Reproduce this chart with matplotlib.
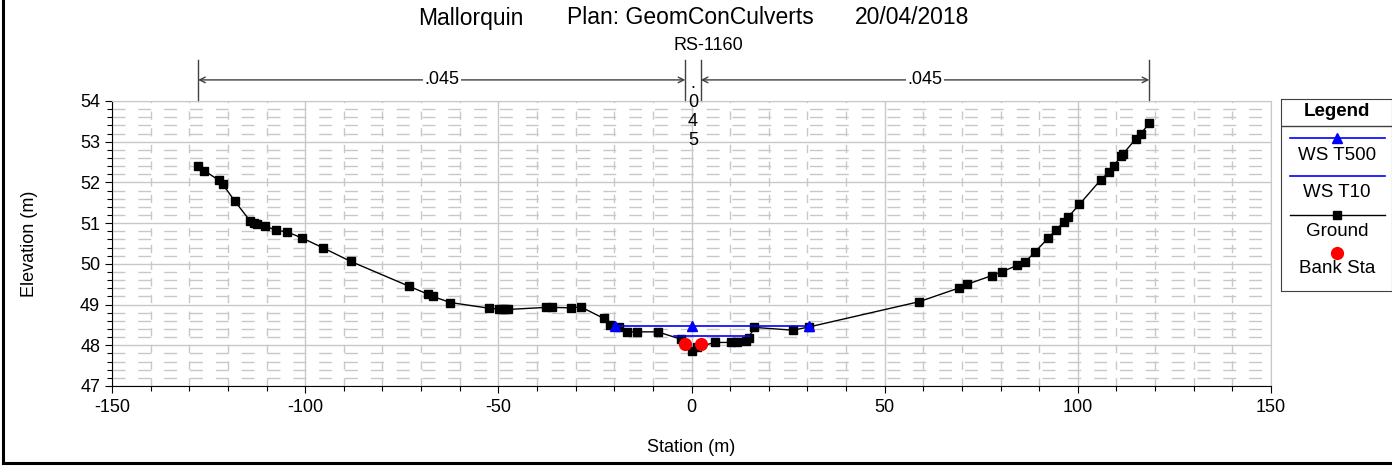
import matplotlib
matplotlib.use("Agg")
import matplotlib.pyplot as plt
from matplotlib.lines import Line2D
from matplotlib.ticker import MultipleLocator

plt.rcParams['font.family'] = ['Liberation Sans', 'DejaVu Sans']
plt.rcParams['axes.unicode_minus'] = False

# ground profile (station, elevation)
ground_sta = [-127.7, -126.1, -122.3, -121.3, -118.2, -114.3, -113.2, -112.4, -110.5,
              -107.6, -104.6, -100.9, -95.3, -88.2, -73.1, -68.1, -67.0, -62.4,
              -52.4, -49.9, -49.0, -48.2, -47.5, -37.7, -36.0, -31.2, -28.6,
              -22.7, -21.0, -18.8, -16.7, -14.2, -8.7, -2.8, 0.0, 1.5, 6.0,
              10.1, 11.8, 14.2, 14.8, 16.3, 26.3, 30.4, 58.9, 69.3, 71.4,
              77.7, 80.5, 84.2, 86.4, 88.9, 92.4, 94.3, 96.5, 97.5, 100.4,
              105.9, 108.0, 109.3, 111.1, 111.8, 115.0, 116.3, 118.5]
ground_elev = [52.40, 52.29, 52.05, 51.95, 51.54, 51.06, 51.00, 50.98, 50.93,
               50.83, 50.78, 50.64, 50.39, 50.06, 49.45, 49.25, 49.20, 49.05,
               48.91, 48.89, 48.88, 48.88, 48.88, 48.93, 48.93, 48.92, 48.94,
               48.66, 48.50, 48.46, 48.33, 48.33, 48.33, 48.15, 47.86, 47.95, 48.07,
               48.07, 48.07, 48.10, 48.19, 48.44, 48.37, 48.45, 49.07, 49.41, 49.50,
               49.71, 49.81, 49.96, 50.05, 50.29, 50.64, 50.83, 51.04, 51.15, 51.46,
               52.06, 52.25, 52.40, 52.64, 52.71, 53.07, 53.19, 53.46]

ws500_sta = [-19.7, 0.0, 30.4]
ws500_elev = [48.47, 48.47, 48.47]

ws10_sta = [-4.5, 14.8]
ws10_elev = [48.23, 48.23]

bank_sta = [-1.6, 2.4]
bank_elev = [48.04, 48.04]

# manning's n regions
n_bounds = [-127.7, -1.6, 2.4, 118.5]
n_values = ['.045', '.045', '.045']

W, H = 1392, 470
fig = plt.figure(figsize=(W / 100, H / 100), dpi=100)
ax = fig.add_axes([112 / W, 1 - 386 / H, (1271 - 112) / W, (386 - 101) / H])

grid_c = '#c8c8c8'
ax.set_xlim(-150, 150)
ax.set_ylim(47, 54)
ax.xaxis.set_major_locator(MultipleLocator(50))
ax.xaxis.set_minor_locator(MultipleLocator(10))
ax.yaxis.set_major_locator(MultipleLocator(1))
ax.yaxis.set_minor_locator(MultipleLocator(0.2))
ax.grid(which='major', color=grid_c, lw=1.0)
ax.grid(which='minor', axis='y', color=grid_c, lw=1.0, linestyle=(0, (9.3, 9.3)))
ax.grid(which='minor', axis='x', color=grid_c, lw=1.0, linestyle=(0, (6, 6)))
ax.set_axisbelow(True)
for s in ['top', 'right']:
    ax.spines[s].set_color(grid_c)
for s in ['left', 'bottom']:
    ax.spines[s].set_color('black')
ax.tick_params(which='major', length=5, width=0.8, labelsize=13)
ax.tick_params(which='minor', length=3.5, width=0.8)
ax.tick_params(axis='x', pad=4)

ax.plot(ground_sta, ground_elev, color='black', lw=1, marker='s', ms=5.8, zorder=3)
ax.plot(ws500_sta, ws500_elev, color='#0000ff', lw=1.2, marker='^', ms=6.5, zorder=4)
ax.plot(ws10_sta, ws10_elev, color='#0000ff', lw=1.2, zorder=4)
ax.plot(bank_sta, bank_elev, 'o', color='#ff0000', ms=8.5, zorder=5)

ax.set_xlabel('Station (m)', fontsize=13, labelpad=17)
ax.set_ylabel('Elevation (m)', fontsize=13, labelpad=30)

# manning's n markers above the plot
tr = ax.get_xaxis_transform()
ann_c = '#404040'
for b in n_bounds:
    ax.plot([b, b], [1.0, 1.144], transform=tr, color=ann_c, lw=1, clip_on=False)
arrow_y = 1.074
for (x0, x1), n in zip([(n_bounds[0], n_bounds[1]), (n_bounds[2], n_bounds[3])],
                       [n_values[0], n_values[2]]):
    ax.annotate('', xy=(x0, arrow_y), xytext=(x1, arrow_y), xycoords=tr, textcoords=tr,
                arrowprops=dict(arrowstyle='<->', color=ann_c, lw=1, shrinkA=0, shrinkB=0),
                annotation_clip=False)
    ax.text((x0 + x1) / 2, arrow_y, n, transform=tr, ha='center', va='center', fontsize=13,
            bbox=dict(facecolor='white', edgecolor='none', pad=1))
mid = (n_bounds[1] + n_bounds[2]) / 2
ax.text(mid, (386 - 75) / 285, '\n'.join(n_values[1]), transform=tr, ha='center', va='top',
        fontsize=13, linespacing=1.16)

fig.text(708 / W, 1 - 46 / H, 'RS-1160', ha='center', va='center', fontsize=13)
fig.text(418 / W, 1 - 18 / H, 'Mallorquin', ha='left', va='center', fontsize=16.5)
fig.text(567 / W, 1 - 18 / H, 'Plan: GeomConCulverts', ha='left', va='center', fontsize=16.5)
fig.text(855 / W, 1 - 18 / H, '20/04/2018', ha='left', va='center', fontsize=16.5)

# legend box
lg = fig.add_axes([1281 / W, 1 - 291 / H, 111 / W, 192 / H])
lg.set_xlim(1281, 1392)
lg.set_ylim(291, 99)
lg.set_xticks([])
lg.set_yticks([])
for s in lg.spines.values():
    s.set_color('#404040')
lg.text(1337, 112, 'Legend', ha='center', va='center', fontsize=13.5, weight='bold')
lg.plot([1281, 1392], [125.7, 125.7], color='#404040', lw=1)
lg.plot([1290, 1385], [137.7, 137.7], color='#0000ff', lw=1.2)
lg.plot([1337], [137.7], marker='^', color='#0000ff', ms=6.5)
lg.text(1337, 155, 'WS T500', ha='center', va='center', fontsize=13.5)
lg.plot([1290, 1385], [176, 176], color='#0000ff', lw=1.2)
lg.text(1337, 193, 'WS T10', ha='center', va='center', fontsize=13.5)
lg.plot([1290, 1385], [215, 215], color='black', lw=1)
lg.plot([1337], [215], marker='s', color='black', ms=5.8)
lg.text(1337, 232, 'Ground', ha='center', va='center', fontsize=13.5)
lg.plot([1337], [253], 'o', color='#ff0000', ms=8.5)
lg.text(1337, 269, 'Bank Sta', ha='center', va='center', fontsize=13.5)

# outer frame
fig.add_artist(Line2D([3 / W, 3 / W], [1 - 463 / H, 1], color='black', lw=2.2))
fig.add_artist(Line2D([3 / W, 1], [1 - 463 / H, 1 - 463 / H], color='black', lw=2.2))

fig.savefig('out.png', dpi=100)
